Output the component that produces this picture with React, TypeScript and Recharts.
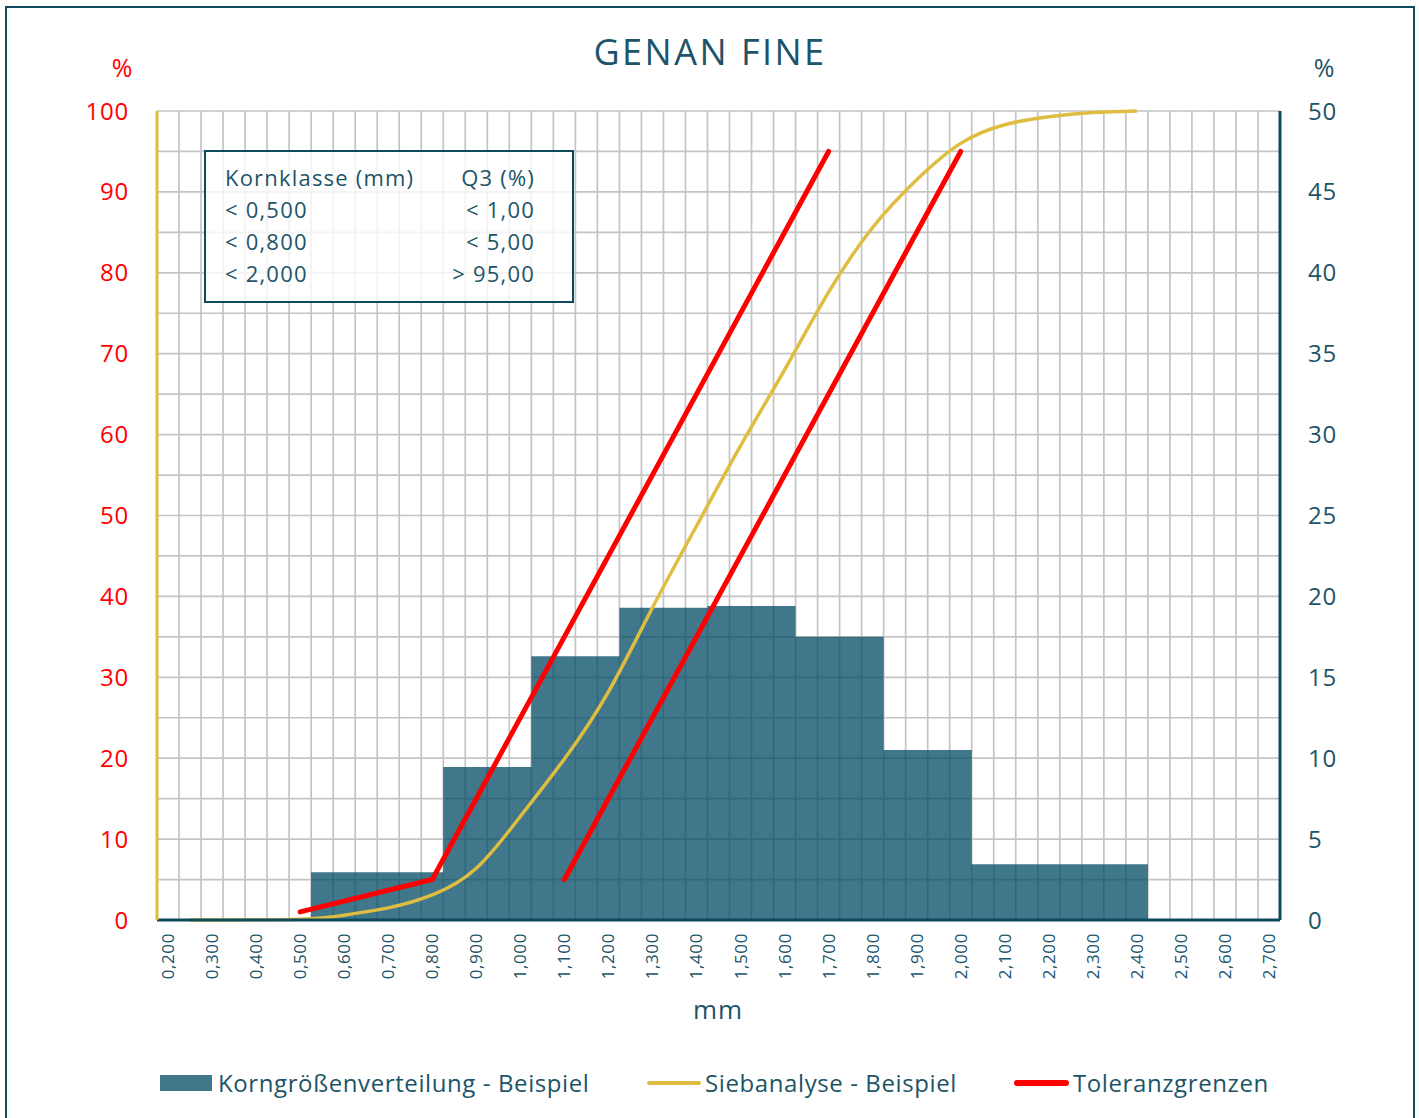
import React from 'react';
import {
  ComposedChart, Area, Line, XAxis, YAxis, CartesianGrid,
} from 'recharts';

// ---- data ----
const chartTitle = 'GENAN FINE';
const xAxisTitle = 'mm';
// x tick labels (mm)
const xTicks = [0.2, 0.3, 0.4, 0.5, 0.6, 0.7, 0.8, 0.9, 1.0, 1.1, 1.2, 1.3, 1.4, 1.5, 1.6, 1.7, 1.8, 1.9, 2.0, 2.1, 2.2, 2.3, 2.4, 2.5, 2.6, 2.7];
const leftTicks = [0, 10, 20, 30, 40, 50, 60, 70, 80, 90, 100];
const rightTicks = [0, 5, 10, 15, 20, 25, 30, 35, 40, 45, 50];

// histogram (Korngrößenverteilung) – class edges (mm) and values (% right axis)
const histEdges = [0.525, 0.825, 1.025, 1.225, 1.425, 1.625, 1.825, 2.025, 2.425];
const histValues = [2.95, 9.45, 16.3, 19.3, 19.4, 17.5, 10.5, 3.45, 0];

// Siebanalyse (cumulative, % left axis)
const sieveX = [0.25, 0.5, 0.6, 0.7, 0.8, 0.9, 1.0, 1.1, 1.2, 1.3, 1.4, 1.5, 1.6, 1.7, 1.8, 1.9, 2.0, 2.1, 2.2, 2.3, 2.4];
const sieveY = [0, 0.1, 0.6, 1.5, 3.1, 6.4, 12.8, 19.9, 28.2, 38.6, 48.7, 58.6, 68, 77.6, 85.6, 91.5, 96.0, 98.3, 99.3, 99.8, 100];

// Toleranzgrenzen
const tolLowerX = [0.5, 0.8, 1.7];
const tolLowerY = [1, 5, 95];
const tolUpperX = [1.1, 2.0];
const tolUpperY = [5, 95];

// info table
const tableHeader = ['Kornklasse (mm)', 'Q3 (%)'];
const tableClasses = ['< 0,500', '< 0,800', '< 2,000'];
const tableQ3 = ['< 1,00', '< 5,00', '> 95,00'];

const legendLabels = ['Korngrößenverteilung - Beispiel', 'Siebanalyse - Beispiel', 'Toleranzgrenzen'];

// ---- derived ----
const histData = histEdges.map((x, i) => ({ x, v: histValues[i] }));
const sieveData = sieveX.map((x, i) => ({ x, v: sieveY[i] }));
const tolLower = tolLowerX.map((x, i) => ({ x, v: tolLowerY[i] }));
const tolUpper = tolUpperX.map((x, i) => ({ x, v: tolUpperY[i] }));
const X_MIN = 0.175;
const X_MAX = 2.725;
const gridXTicks = Array.from({ length: 52 }, (_, i) => +(X_MIN + i * 0.05).toFixed(3));
const gridYTicks = Array.from({ length: 21 }, (_, i) => i * 5);

const TEAL = '#1d5468';
const AXIS = '#0e4a5e';
const RED = '#ff0000';
const YELLOW = '#dfbd40';
const BAR = '#004a63';
const FONT = '"Open Sans", Lato, sans-serif';

const fmtX = (v: number) => v.toFixed(3).replace('.', ',');

const XTick = (props: any) => {
  const { x, y, payload } = props;
  return (
    <text
      transform={`translate(${x + 6},${y + 11}) rotate(-90)`}
      textAnchor="end"
      fontSize={17}
      letterSpacing={0.6}
      fill={TEAL}
      fontFamily={FONT}
    >
      {fmtX(payload.value)}
    </text>
  );
};

const vGen = ({ xAxis, offset }: any) => {
  if (xAxis && typeof xAxis.scale === 'function') return gridXTicks.map((t) => xAxis.scale(t));
  return gridXTicks.map((t) => offset.left + ((t - X_MIN) / (X_MAX - X_MIN)) * offset.width);
};
const hGen = ({ yAxis, offset }: any) => {
  if (yAxis && typeof yAxis.scale === 'function') return gridYTicks.map((t) => yAxis.scale(t));
  return gridYTicks.map((t) => offset.top + offset.height - (t / 100) * offset.height);
};

const legendText: React.CSSProperties = { position: 'absolute', top: 1082, transform: 'translateY(-50%)', fontSize: 24, letterSpacing: 0.6, color: TEAL, whiteSpace: 'nowrap' };
const tableText: React.CSSProperties = { position: 'absolute', fontSize: 22, letterSpacing: 1.2, lineHeight: '30px', color: TEAL, whiteSpace: 'nowrap' };

export default function App() {
  return (
    <div style={{ position: 'absolute', left: 0, top: 0, width: 1419, height: 1118, background: '#fff', fontFamily: FONT, overflow: 'hidden' }}>
      <div style={{ position: 'absolute', left: 5, top: 6, width: 1406, height: 1130, border: `2px solid ${AXIS}` }} />
      <ComposedChart
        width={1419}
        height={1118}
        margin={{ top: 111, right: 79, bottom: 128, left: 97 }}
        style={{ position: 'absolute', left: 0, top: 0 }}
      >
        <CartesianGrid xAxisId="main" yAxisId="left" stroke="#c4c4c4" strokeWidth={1.7}
          verticalCoordinatesGenerator={vGen} horizontalCoordinatesGenerator={hGen} />
        <XAxis xAxisId="main" type="number" dataKey="x" domain={[X_MIN, X_MAX]} allowDataOverflow
          ticks={xTicks} interval={0} height={70} tickLine={false} tickSize={0}
          axisLine={{ stroke: AXIS, strokeWidth: 3 }} tick={<XTick />} />
        <YAxis yAxisId="left" type="number" domain={[0, 100]} ticks={leftTicks} interval={0} width={60}
          orientation="left" tickLine={false} tickMargin={22}
          axisLine={{ stroke: YELLOW, strokeWidth: 3 }}
          tick={{ fill: RED, fontSize: 24, fontFamily: FONT, letterSpacing: 0.8 }} />
        <YAxis yAxisId="right" type="number" domain={[0, 50]} ticks={rightTicks} interval={0} width={60}
          orientation="right" tickLine={false} tickMargin={22}
          axisLine={{ stroke: AXIS, strokeWidth: 3 }}
          tick={{ fill: TEAL, fontSize: 24, fontFamily: FONT, letterSpacing: 0.8 }} />
        <Area xAxisId="main" yAxisId="right" data={histData} dataKey="v" type="stepAfter"
          fill={BAR} fillOpacity={0.75} stroke="none" isAnimationActive={false} dot={false} activeDot={false} />
        <Line xAxisId="main" yAxisId="left" data={sieveData} dataKey="v" type="natural"
          stroke={YELLOW} strokeWidth={3.5} dot={false} activeDot={false} isAnimationActive={false} />
        <Line xAxisId="main" yAxisId="left" data={tolLower} dataKey="v" type="linear"
          stroke={RED} strokeWidth={5} strokeLinecap="round" strokeLinejoin="round" dot={false} activeDot={false} isAnimationActive={false} />
        <Line xAxisId="main" yAxisId="left" data={tolUpper} dataKey="v" type="linear"
          stroke={RED} strokeWidth={5} strokeLinecap="round" dot={false} activeDot={false} isAnimationActive={false} />
      </ComposedChart>

      {/* title & axis titles */}
      <div style={{ position: 'absolute', left: 710, top: 51, transform: 'translate(-50%,-50%)', fontSize: 36, color: TEAL, whiteSpace: 'nowrap', letterSpacing: 2.5 }}>{chartTitle}</div>
      <div style={{ position: 'absolute', left: 122, top: 67, transform: 'translate(-50%,-50%)', fontSize: 25, color: RED }}>%</div>
      <div style={{ position: 'absolute', left: 1324, top: 67, transform: 'translate(-50%,-50%)', fontSize: 25, color: TEAL }}>%</div>
      <div style={{ position: 'absolute', left: 718, top: 1009, transform: 'translate(-50%,-50%)', fontSize: 26, letterSpacing: 1, color: TEAL }}>{xAxisTitle}</div>

      {/* info table */}
      <div style={{ position: 'absolute', left: 204, top: 150, width: 366, height: 149, border: `2px solid ${AXIS}`, background: 'rgba(255,255,255,0.8)' }}>
        <div style={{ ...tableText, left: 19, top: 10 }}>{tableHeader[0]}</div>
        <div style={{ ...tableText, right: 37, top: 10 }}>{tableHeader[1]}</div>
        {tableClasses.map((c, i) => (
          <React.Fragment key={c}>
            <div style={{ ...tableText, left: 19, top: 42 + i * 32 }}>{c}</div>
            <div style={{ ...tableText, right: 37, top: 42 + i * 32 }}>{tableQ3[i]}</div>
          </React.Fragment>
        ))}
      </div>

      {/* legend */}
      <div style={{ position: 'absolute', left: 160, top: 1075, width: 52, height: 16, background: BAR, opacity: 0.75 }} />
      <div style={{ ...legendText, left: 218 }}>{legendLabels[0]}</div>
      <div style={{ position: 'absolute', left: 647, top: 1081, width: 54, height: 4, background: YELLOW, borderRadius: 2 }} />
      <div style={{ ...legendText, left: 705 }}>{legendLabels[1]}</div>
      <div style={{ position: 'absolute', left: 1014, top: 1080, width: 55, height: 6, background: RED, borderRadius: 3 }} />
      <div style={{ ...legendText, left: 1073 }}>{legendLabels[2]}</div>
    </div>
  );
}
